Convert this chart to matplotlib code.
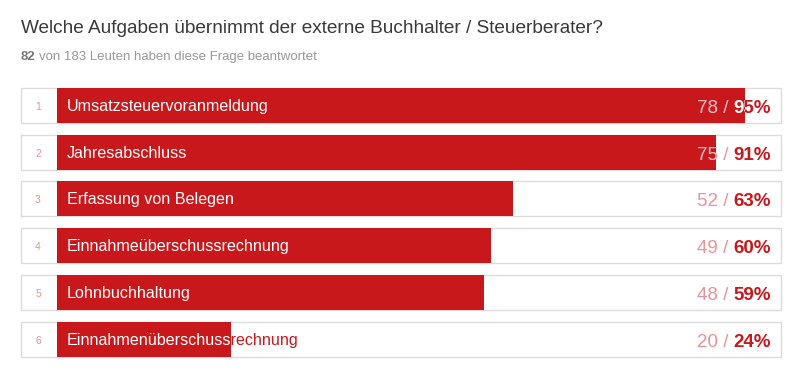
import matplotlib
matplotlib.use("Agg")
import matplotlib.pyplot as plt
from matplotlib.patches import Rectangle

plt.rcParams['font.family'] = ['Liberation Sans', 'DejaVu Sans']

# Daten
title = "Welche Aufgaben übernimmt der externe Buchhalter / Steuerberater?"
answered = 82
total_people = 183
categories = ["Umsatzsteuervoranmeldung", "Jahresabschluss", "Erfassung von Belegen",
              "Einnahmeüberschussrechnung", "Lohnbuchhaltung", "Einnahmenüberschussrechnung"]
counts = [78, 75, 52, 49, 48, 20]
percents = [95, 91, 63, 60, 59, 24]

RED = '#c9181b'
LIGHT = '#e8929a'

W, H = 800, 373
fig = plt.figure(figsize=(W / 100, H / 100), dpi=100)
fig.patch.set_facecolor('white')

# Titel und Untertitel
fig.text(21 / W, 1 - 33 / H, title, fontsize=13.7, color='#3a3a3a', va='baseline')
t82 = fig.text(21 / W, 1 - 60 / H, str(answered), fontsize=9.5, color='#777777',
               fontweight='bold', va='baseline')
r = fig.canvas.get_renderer()
bb = t82.get_window_extent(r)
fig.text((bb.x1 + 3) / W, 1 - 60 / H,
         f"von {total_people} Leuten haben diese Frage beantwortet",
         fontsize=9.5, color='#999999', va='baseline')

# Balken-Achse: 0..1 Anteil, Zeilen 0..5
row_px = 46.74
ax = fig.add_axes([57 / W, 1 - 362.4 / H, 724 / W, 6 * row_px / H])
ax.set_xlim(0, 1)
ax.set_ylim(5.5, -0.5)
ax.axis('off')

h = 35 / row_px
box_left = (21 - 57) / 724
ys = list(range(len(categories)))
for y in ys:
    ax.add_patch(Rectangle((box_left, y - h / 2), 1 - box_left, h, facecolor='white',
                           edgecolor='#dcdcdc', linewidth=1, clip_on=False, zorder=1))

bars = ax.barh(ys, [p / 100 for p in percents], height=h, left=0, color=RED, zorder=2)

for i, (cat, c, p, bar) in enumerate(zip(categories, counts, percents, bars)):
    # Nummer
    ax.text((38 - 57) / 724, i + 0.1, str(i + 1), fontsize=7.5, color=LIGHT,
            ha='center', va='baseline', zorder=3)
    # Beschriftung: rot ausserhalb, weiss im Balken
    ax.text(10 / 724, i + 0.118, cat, fontsize=11.6, color=RED, va='baseline', zorder=3)
    tw = ax.text(10 / 724, i + 0.118, cat, fontsize=11.6, color='white', va='baseline',
                 zorder=4, clip_on=True)
    tw.set_clip_path(bar)

    # Prozent (fett, rechtsbündig)
    xr = (771 - 57) / 724
    tp = ax.text(xr, i + 0.16, f"{p}%", fontsize=13.5, fontweight='bold', color=RED,
                 ha='right', va='baseline', zorder=3)
    tpw = ax.text(xr, i + 0.16, f"{p}%", fontsize=13.5, fontweight='bold', color='white',
                  ha='right', va='baseline', zorder=4, clip_on=True)
    tpw.set_clip_path(bar)

    bbp = tp.get_window_extent(r)
    xc = ax.transData.inverted().transform((bbp.x0, 0))[0]
    ax.text(xc, i + 0.16, f"{c} / ", fontsize=13.5, color=LIGHT,
            ha='right', va='baseline', zorder=3)
    tcw = ax.text(xc, i + 0.16, f"{c} / ", fontsize=13.5, color='white', alpha=0.35,
                  ha='right', va='baseline', zorder=4, clip_on=True)
    tcw.set_clip_path(bar)

fig.savefig('out.png', dpi=100, facecolor='white')
